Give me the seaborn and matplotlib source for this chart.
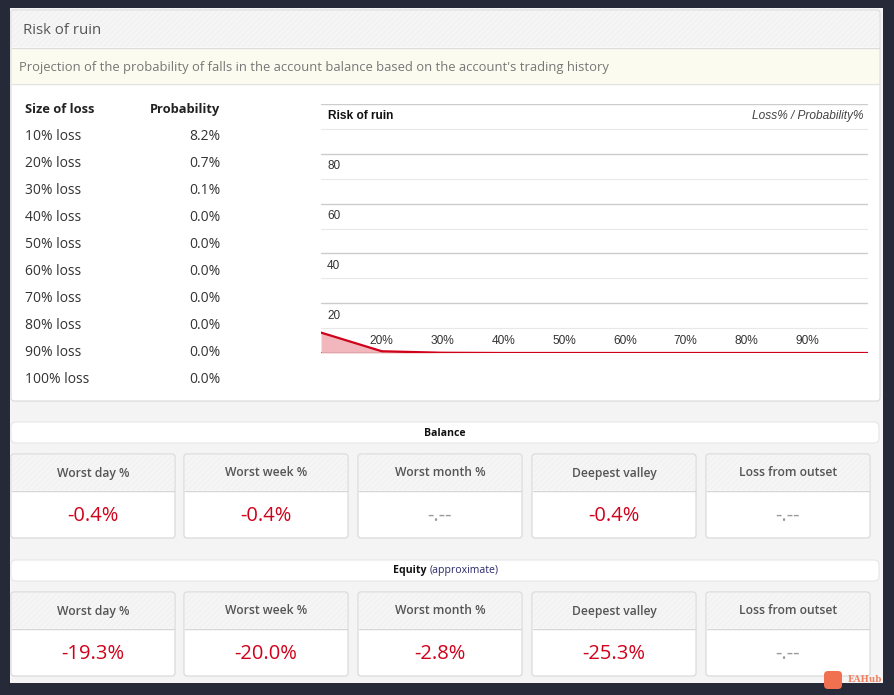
import numpy as np
import pandas as pd
import matplotlib
matplotlib.use("Agg")
import matplotlib.pyplot as plt
from matplotlib.patches import FancyBboxPatch, Rectangle
import seaborn as sns

# data
loss_levels = [10, 20, 30, 40, 50, 60, 70, 80, 90, 100]
probabilities = [8.2, 0.7, 0.1, 0.0, 0.0, 0.0, 0.0, 0.0, 0.0, 0.0]
table_labels = [f"{v}% loss" for v in loss_levels]
y_ticks = [20, 40, 60, 80]
x_ticks = [20, 30, 40, 50, 60, 70, 80, 90]

card_titles = ["Worst day %", "Worst week %", "Worst month %", "Deepest valley", "Loss from outset"]
balance_vals = ["-0.4%", "-0.4%", "-.--", "-0.4%", "-.--"]
equity_vals = ["-19.3%", "-20.0%", "-2.8%", "-25.3%", "-.--"]

sns.set_theme(style="white")
plt.rcParams['font.family'] = ['Open Sans', 'DejaVu Sans']
plt.rcParams['hatch.linewidth'] = 0.4

W, H = 894, 695
fig = plt.figure(figsize=(W / 100, H / 100), dpi=100)
fig.patch.set_facecolor("#262a38")

bg = fig.add_axes([0, 0, 1, 1])
bg.set_xlim(0, W)
bg.set_ylim(H, 0)
bg.axis("off")

RED = "#d0021b"
DARK = "#333333"
ARIAL = ["Liberation Sans", "DejaVu Sans"]


def box(x, y, w, h, fc, ec="#dddddd", r=3, lw=0.8, z=1):
    p = FancyBboxPatch((x, y), w, h, boxstyle=f"round,pad=0,rounding_size={r}",
                       fc=fc, ec=ec, lw=lw, zorder=z)
    bg.add_patch(p)
    return p


def hatched(x, y, w, h):
    bg.add_patch(Rectangle((x, y), w, h, fc="#f5f5f5", ec="none", zorder=1.5))
    bg.add_patch(Rectangle((x, y), w, h, fc="none", ec="#ededed", lw=0,
                           hatch="//////", zorder=1.6))


# page background
bg.add_patch(Rectangle((10, 8), 873, 675, fc="#f4f4f4", ec="none", zorder=0))

# risk of ruin panel
box(11, 10, 869, 391, "white", ec="#d8d8d8", z=1)
hatched(12, 11, 867, 36)
bg.plot([12, 879], [47.5, 47.5], color="#dddddd", lw=1, zorder=2)
bg.add_patch(Rectangle((12, 48), 867, 35, fc="#fbfbef", ec="none", zorder=1.5))
bg.plot([12, 879], [83.5, 83.5], color="#e3e3d8", lw=1, zorder=2)
bg.text(23, 34.5, "Risk of ruin", fontsize=10.8, color="#555555", va="baseline", zorder=3)
bg.text(19, 71.5, "Projection of the probability of falls in the account balance based on the account's trading history",
        fontsize=9.35, color="#777777", va="baseline", zorder=3)

# table
bg.text(25, 113, "Size of loss", fontsize=9.3, fontweight="bold", color="#222222", va="baseline", zorder=3)
bg.text(220, 113, "Probability", fontsize=9.3, fontweight="bold", color="#222222", va="baseline",
        ha="right", zorder=3)
for i, (lab, p) in enumerate(zip(table_labels, probabilities)):
    yy = 135 + 27 * i + 5
    bg.text(25, yy, lab, fontsize=10, color=DARK, va="baseline", zorder=3)
    bg.text(220, yy, f"{p:.1f}%", fontsize=10, color=DARK, va="baseline", ha="right", zorder=3)

# chart
ax = fig.add_axes([321 / W, 1 - 353 / H, (868 - 321) / W, (353 - 104) / H])
ax.set_facecolor("none")
df = pd.DataFrame({"loss": loss_levels, "prob": probabilities})
ax.set_xlim(10, 100)
ax.set_ylim(0, 100)
for v in range(10, 101, 10):
    major = v % 20 == 0
    ax.axhline(v, color="#cccccc" if major else "#e8e8e8", lw=1 if major else 0.8, zorder=0)
ax.axhline(0, color=DARK, lw=1.2, zorder=1)
ax.fill_between(df["loss"], df["prob"], 0, color="#f0b0b5", alpha=0.9, lw=0, zorder=2)
sns.lineplot(data=df, x="loss", y="prob", ax=ax, color=RED, lw=1.6, zorder=3)
ax.set_xticks([])
ax.set_yticks([])
ax.set_xlabel("")
ax.set_ylabel("")
for s in ax.spines.values():
    s.set_visible(False)
for t in y_ticks:
    ax.text(11.0, t - 2.6, str(t), fontsize=8.5, color=DARK, va="top", ha="left", family=ARIAL)
for t in x_ticks:
    ax.text(t, 5.0, f"{t}%", fontsize=8.6, color=DARK, va="center", ha="center", family=ARIAL)
ax.text(11.2, 95.0, "Risk of ruin", fontsize=8.6, fontweight="bold", color="#111111",
        va="center", family=ARIAL)
ax.text(99.2, 95.0, "Loss% / Probability%", fontsize=8.6, fontstyle="italic", color="#444444",
        va="center", ha="right", family=ARIAL)

# stat sections
card_x = [11, 184, 358, 532, 706]
card_w = 164


def section(top, label_parts, values):
    box(11, top, 868, 21, "white", ec="#e6e6e6", r=5)
    if len(label_parts) == 1:
        bg.text(445, top + 11, label_parts[0], fontsize=7.6, fontweight="bold", color="#111111",
                ha="center", va="center", zorder=3)
    else:
        bg.text(427, top + 11, label_parts[0], fontsize=7.6, fontweight="bold", color="#111111",
                ha="right", va="center", zorder=3)
        bg.text(430, top + 11, label_parts[1], fontsize=7.6, color="#2a2a6a",
                ha="left", va="center", zorder=3)
    ctop = top + 32
    for x, title, val in zip(card_x, card_titles, values):
        box(x, ctop, card_w, 84, "white", ec="#d6d6d6", r=3)
        hatched(x + 1, ctop + 1, card_w - 2, 35)
        bg.plot([x + 1, x + card_w - 1], [ctop + 36.5, ctop + 36.5], color="#d6d6d6", lw=1, zorder=2)
        bg.text(x + card_w / 2, ctop + 19, title, fontsize=8.7, fontweight="semibold", color="#555555",
                ha="center", va="center", zorder=3)
        bg.text(x + card_w / 2, ctop + 62, val, fontsize=14.5,
                color="#999999" if val == "-.--" else RED, ha="center", va="center", zorder=3)


section(422, ["Balance"], balance_vals)
section(560, ["Equity", "(approximate)"], equity_vals)

# watermark
box(824, 671, 18, 18, "#f07050", ec="none", r=4, z=4)
bg.text(848, 680, "EAHub", fontsize=6.3, fontweight="bold", color="#f08060", va="center", zorder=4,
        family=["DejaVu Serif"])

fig.savefig("out.png", dpi=100, facecolor=fig.get_facecolor())
